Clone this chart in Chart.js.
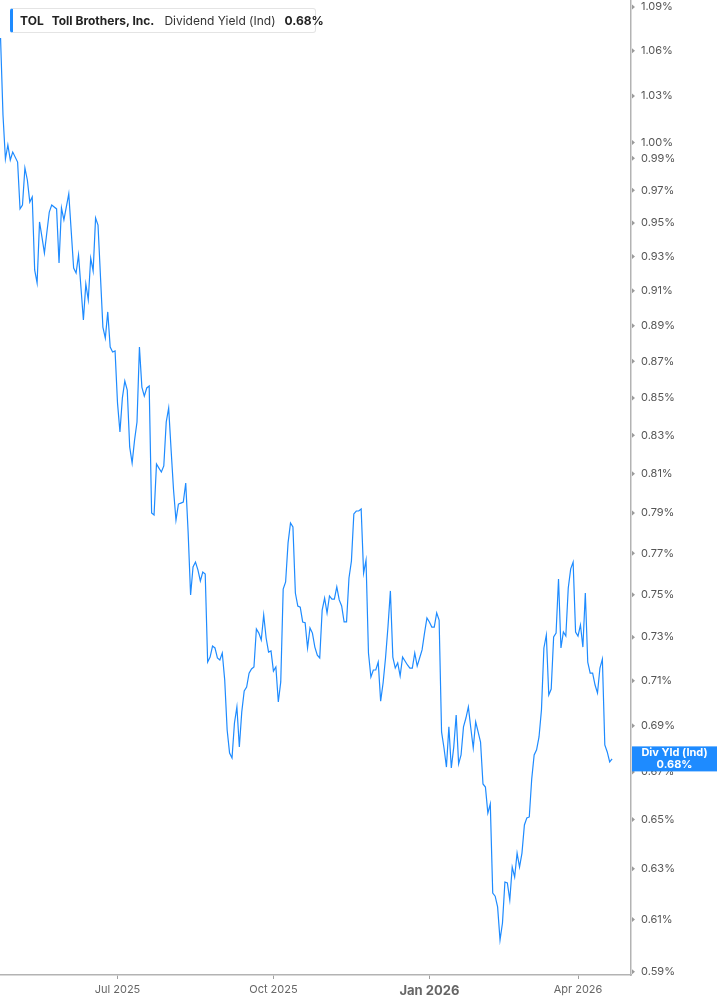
<!DOCTYPE html>
<html>
<head>
<meta charset="utf-8">
<script src="https://cdn.jsdelivr.net/npm/chart.js@4.4.1/dist/chart.umd.min.js"></script>
<style>
  html, body { margin: 0; padding: 0; background: #ffffff; }
  #wrap { position: relative; width: 717px; height: 1005px; }
  #legend {
    position: absolute; left: 10px; top: 8px; height: 25px; width: 306px;
    box-sizing: border-box; border: 1px solid #e4e4e4; border-left: 3px solid #1e8bff;
    border-radius: 3px; background: #fff; display: flex; align-items: center;
    font-family: Inter, "Noto Sans", sans-serif; font-size: 12px; color: #222; white-space: nowrap;
    padding-left: 7px;
  }
  #legend b { font-weight: 700; }
  #legend .sym { margin-right: 8px; }
  #legend .name { margin-right: 10px; }
  #legend .metric { margin-right: 9px; font-weight: 400; color: #333; }
</style>
</head>
<body>
<div id="wrap">
  <canvas id="c" width="717" height="1005"></canvas>
  <div id="legend"><b class="sym">TOL</b><b class="name">Toll Brothers, Inc.</b><span class="metric">Dividend Yield (Ind)</span><b>0.68%</b></div>
</div>
<script>
// Trading-day index (0 = first trading day shown, late Apr 2025)
const dayIndex = [
  0,1,2,3,4,5,7,8,9,10,11,12,13,14,15,16,17,18,20,21,23,24,25,26,28,30,31,32,34,35,36,37,38,39,40,
  42,43,44,45,46,47,48,49,50,51,52,53,54,55,56,57,58,59,60,61,62,63,64,65,66,67,68,69,70,71,72,73,74,75,
  76,77,78,79,80,81,82,83,84,85,86,87,88,89,90,91,92,93,94,95,96,97,98,99,100,101,102,103,104,105,
  106,107,108,109,110,111,112,113,114,115,116,117,118,119,120,121,122,123,124,125,126,127,128,129,130,
  131,132,133,134,135,136,137,138,139,140,141,142,143,144,145,146,147,148,149,150,151,152,153,154,155,
  156,157,158,159,160,161,162,163,164,165,166,167,168,169,170,171,172,173,174,175,176,177,178,179,180,
  181,182,183,184,185,186,187,188,189,190,191,192,193,194,195,196,197,198,199,200,201,202,203,204,205,
  206,207,208,209,210,211,212,213,214,215,216,217,218,219,220,221,222,223,224,225,226,227,228,229,230,
  231,232,233,234,235,236,237,238,239,240,241,242,243,244,245,246,247,248,249,250,251
];
// Dividend yield (indicated), percent
const divYield = [
  1.0687,1.0176,0.9895,0.9984,0.9889,0.9939,0.9876,0.9586,0.9610,0.9839,0.9764,0.9628,0.9659,0.9221,0.9145,
  0.9507,0.9416,0.9321,0.9567,0.9610,0.9586,0.9262,0.9592,0.9519,0.9678,0.9232,0.9203,0.9309,0.8932,0.9139,
  0.9047,0.9291,0.9215,0.9531,0.9488,
  0.8892,0.8830,0.8978,0.8780,0.8752,0.8758,0.8473,0.8318,0.8500,0.8592,0.8543,0.8239,0.8155,0.8275,0.8371,
  0.8780,0.8559,0.8510,0.8554,0.8565,0.7900,0.7890,0.8150,0.8129,0.8109,0.8140,0.8371,0.8446,0.8223,0.8016,
  0.7865,0.7945,0.7950,0.7955,
  0.8052,0.7800,0.7499,0.7633,0.7657,0.7619,0.7566,0.7609,0.7599,0.7185,0.7208,0.7259,0.7250,0.7204,0.7195,
  0.7227,0.7104,0.6881,0.6781,0.6760,0.6912,0.6983,0.6807,0.6961,0.7054,0.7072,0.7135,0.7154,0.7163,0.7338,
  0.7319,0.7287,0.7404,0.7296,0.7231,0.7236,0.7144,0.7163,0.7005,0.7095,0.7527,0.7561,0.7751,0.7850,0.7830,
  0.7508,0.7446,0.7441,0.7371,0.7367,0.7250,0.7343,0.7319,0.7254,0.7217,
  0.7204,0.7427,0.7484,0.7413,0.7494,0.7479,0.7479,0.7537,0.7475,0.7446,0.7371,0.7371,0.7580,0.7662,0.7895,
  0.7910,0.7910,0.7920,0.7604,0.7667,0.7227,0.7117,0.7149,0.7149,0.7185,
  0.7009,0.7090,0.7204,0.7347,0.7518,0.7208,0.7158,0.7181,0.7122,0.7208,0.7190,0.7172,0.7158,0.7158,0.7227,
  0.7167,0.7204,0.7241,0.7319,0.7390,0.7371,0.7347,0.7347,0.7413,0.7380,
  0.6873,0.6803,0.6721,0.6895,0.6717,0.6807,0.6947,0.6734,0.6773,0.6895,0.6934,0.6983,0.6890,0.6803,0.6917,
  0.6873,0.6829,0.6649,0.6636,0.6527,0.6565,0.6203,0.6191,0.6149,0.6021,
  0.6086,0.6247,0.6243,0.6176,0.6307,0.6267,0.6363,0.6307,0.6363,0.6478,0.6507,0.6511,0.6670,0.6773,0.6795,
  0.6851,0.6970,0.7250,0.7310,0.7036,0.7063,0.7301,0.7319,0.7575,0.7250,
  0.7324,0.7305,0.7532,0.7624,0.7657,0.7324,0.7305,0.7357,0.7254,0.7508,0.7185,0.7135,0.7135,0.7081,0.7045,
  0.7158,0.7199,0.6816,0.6786,0.6743,0.6756
];
const xTickIndex = [48, 112, 176, 237];
const xTickLabels = ['Jul 2025', 'Oct 2025', 'Jan 2026', 'Apr 2026'];
const yTickValues = [1.09,1.06,1.03,1.00,0.99,0.97,0.95,0.93,0.91,0.89,0.87,0.85,0.83,0.81,0.79,0.77,0.75,0.73,0.71,0.69,0.67,0.65,0.63,0.61,0.59];
const seriesLabel = 'Div Yld (Ind)';
const lastValueText = '0.68%';

const BLUE = '#1e8bff';
const FONT = 'Inter, "Noto Sans", sans-serif';

const yTickMarks = {
  id: 'yTickMarks',
  afterDraw(chart) {
    const ctx = chart.ctx;
    const y = chart.scales.y;
    ctx.save();
    ctx.fillStyle = '#9a9a9a';
    y.ticks.forEach(t => {
      const py = y.getPixelForValue(t.value);
      ctx.beginPath();
      ctx.moveTo(y.left + 1, py - 2.5);
      ctx.lineTo(y.left + 4, py);
      ctx.lineTo(y.left + 1, py + 2.5);
      ctx.closePath();
      ctx.fill();
    });
    // last value badge
    const ds = chart.data.datasets[0].data;
    const last = ds[ds.length - 1];
    const py = y.getPixelForValue(last.y);
    const bx = y.left + 1, bw = chart.width - bx, bh = 25;
    ctx.fillStyle = BLUE;
    ctx.fillRect(bx, py - bh / 2, bw, bh);
    ctx.fillStyle = '#ffffff';
    ctx.textAlign = 'center';
    ctx.textBaseline = 'middle';
    ctx.font = 'bold 11px ' + FONT;
    const cx = bx + bw / 2;
    ctx.fillText(seriesLabel, cx, py - 6);
    ctx.fillText(lastValueText, cx, py + 6);
    ctx.restore();
  }
};

new Chart(document.getElementById('c'), {
  type: 'line',
  data: {
    datasets: [{
      data: dayIndex.map((d, i) => ({ x: d, y: divYield[i] })),
      borderColor: BLUE,
      borderWidth: 1.2,
      pointRadius: 0,
      tension: 0,
      fill: false
    }]
  },
  options: {
    responsive: false,
    animation: false,
    devicePixelRatio: 1,
    layout: { padding: 0 },
    plugins: { legend: { display: false }, tooltip: { enabled: false } },
    scales: {
      x: {
        type: 'linear',
        min: -0.226,
        max: 258.75,
        afterBuildTicks(scale) { scale.ticks = xTickIndex.map(v => ({ value: v })); },
        afterFit(scale) { scale.height = 30; scale.paddingLeft = 0; scale.paddingRight = 0; },
        border: { display: true, color: '#b3b3b3', width: 1.5 },
        grid: { display: true, drawOnChartArea: false, drawTicks: true, tickLength: 4, color: '#a0a0a0' },
        ticks: {
          autoSkip: false, maxRotation: 0, padding: 4,
          color: '#666666',
          callback: (v) => { const i = xTickIndex.indexOf(v); return i >= 0 ? xTickLabels[i] : ''; },
          font: (ctx) => (ctx.tick && ctx.tick.value === 176)
            ? { family: FONT, size: 13, weight: 'bold' }
            : { family: FONT, size: 11 }
        }
      },
      y: {
        type: 'logarithmic',
        position: 'right',
        min: 0.58882,
        max: 1.09486,
        afterBuildTicks(scale) { scale.ticks = yTickValues.map(v => ({ value: v })); },
        afterFit(scale) { scale.width = 86; scale.paddingTop = 0; scale.paddingBottom = 0; },
        border: { display: true, color: '#b3b3b3', width: 1.5 },
        grid: { display: false, drawOnChartArea: false, drawTicks: false },
        ticks: {
          padding: 10,
          color: '#555555',
          font: { family: FONT, size: 11 },
          callback: (v) => Number(v).toFixed(2) + '%'
        }
      }
    }
  },
  plugins: [yTickMarks]
});
</script>
</body>
</html>
